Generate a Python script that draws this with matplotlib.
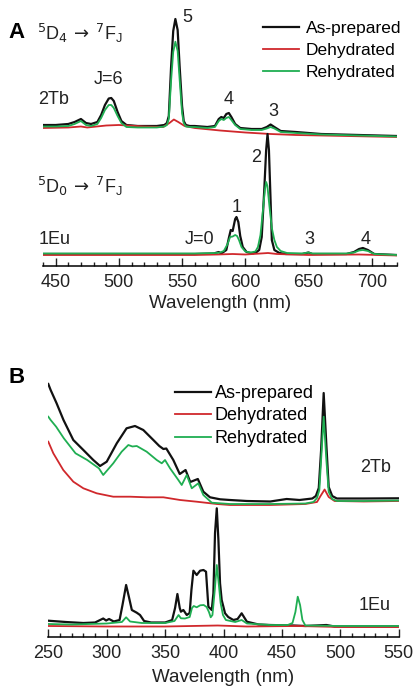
import matplotlib
matplotlib.use("Agg")
import matplotlib.pyplot as plt
from matplotlib.ticker import MultipleLocator

plt.rcParams["font.family"] = ["Liberation Sans", "DejaVu Sans"]
plt.rcParams["mathtext.fontset"] = "dejavusans"

BLACK = "#111111"
RED = "#d0282c"
GREEN = "#1fae52"
LABELS = ["As-prepared", "Dehydrated", "Rehydrated"]

# ---- panel A: emission spectra (intensity in a.u., stacked) ----
A_TB_BLACK_NM = [440, 450, 460, 465, 470, 474, 478, 483, 486, 489, 492, 494, 496, 499, 502, 506,
                 515, 530, 536, 538, 539.5, 541.3, 543, 544.7, 546.5, 548.1, 550, 551.3, 553, 556,
                 560, 570, 576, 579, 581, 583, 585, 587, 589, 592, 596, 605, 613, 617, 620, 623,
                 628, 640, 660, 690, 720]
A_TB_BLACK = [141, 141, 142, 144, 147, 143, 142, 144, 151, 161, 167.5, 168, 165, 154, 145, 141,
              140, 140, 141, 143, 150, 199, 235, 247, 236, 199, 160, 145, 141, 140,
              140, 139, 140, 147, 149, 148, 152, 153, 149, 142, 138, 137, 137, 139, 141.5, 139,
              135, 134, 132, 131, 130]
A_TB_GREEN = [139.5, 139.5, 140, 142, 145, 141, 140, 142, 148, 156, 161, 161, 158, 150, 143, 139,
              138.5, 138.5, 139.5, 141, 147, 185, 214, 224.3, 215, 186, 153, 143, 139.5, 139,
              139, 138, 139, 145, 147, 146, 148, 149, 146, 141, 137, 136, 136, 137.5, 139, 137.5,
              134, 133, 131.5, 130.5, 129.5]
A_TB_RED_NM = [440, 460, 470, 475, 490, 500, 520, 535, 540, 543.5, 547, 552, 560, 580, 600, 620,
               640, 680, 720]
A_TB_RED = [138, 138.5, 139.5, 138.5, 140.5, 141, 139.5, 139, 143, 146.5, 144, 140, 138, 135.5,
            133.5, 132, 131, 130, 129]

A_EU_BLACK_NM = [440, 500, 560, 575, 579, 581, 585, 587, 588.5, 590, 592, 593, 594.5, 596, 598,
                 601, 606, 609, 611, 613, 615, 616.5, 617.6, 618.7, 620, 621, 623, 627, 632, 645,
                 650, 653, 680, 686, 690, 693, 697, 702, 720]
A_EU_BLACK = [12, 12, 12, 12.5, 14, 12.5, 16, 28, 36, 35, 47, 49, 44, 30, 19,
              14, 12.5, 14, 16, 29, 76, 116, 132, 116, 66, 26, 16, 13, 12, 12,
              13.5, 12, 12, 14, 17, 18, 16, 12, 11]
A_EU_GREEN_NM = [440, 560, 577, 580, 583, 586, 588, 590, 592, 593.5, 595, 597, 600, 604, 608,
                 610, 612, 614, 615.5, 616.5, 617.5, 619, 621, 623, 625, 628, 633, 645, 650, 653,
                 680, 686, 690, 693, 697, 702, 720]
A_EU_GREEN = [12.5, 12.5, 13, 13.5, 15, 22, 29, 29.5, 31, 30, 26, 19, 14.5, 13.5, 14.5,
              19, 31, 56, 76, 84, 80, 61, 38, 26, 19, 15, 13, 12.5, 13.5, 12.5,
              12.5, 13.5, 15.5, 16, 15, 12, 11]
A_EU_RED_NM = [440, 560, 578, 590, 600, 612, 618, 625, 650, 690, 720]
A_EU_RED = [11, 11, 11.5, 12, 11.5, 12.5, 13, 12, 11, 11.5, 10.5]

# ---- panel B: excitation spectra (intensity in a.u., stacked) ----
B_TB_BLACK_NM = [250, 252, 257, 263, 271.4, 280, 288.5, 294.3, 300, 308.6, 317, 324.2, 331.3,
                 339.9, 345, 348.5, 351, 357, 362.5, 367.5, 371.5, 378, 382.7, 388.4, 397, 405.5,
                 420, 440, 454, 465, 476, 479, 481.5, 483.5, 485.7, 488, 490, 493, 497, 520, 550]
B_TB_BLACK = [253, 247, 234, 217, 197, 187, 177, 171, 175.3, 193.7, 208.7, 211, 207,
              197, 191, 188, 188.5, 177, 163, 167, 155, 158, 145.3, 139.7, 137.7, 137,
              136, 135.5, 138, 137, 138.5, 141, 149, 187, 244, 192, 150, 141, 138.5, 138.5, 138.7]
B_TB_GREEN_NM = [250, 252, 256.7, 263.3, 273.3, 283.3, 293.3, 297, 305.6, 312.8, 318.5, 322,
                 325.7, 334.2, 342.8, 347.1, 349.9, 354.2, 361.3, 364.2, 368.5, 372.8, 378.4,
                 382.7, 389.9, 405.5, 440, 470, 477, 480, 482, 483.5, 485.7, 488, 490, 493, 497,
                 520, 550]
B_TB_GREEN = [220.3, 217, 210.3, 198.7, 183.7, 177, 168.7, 162, 173.7, 185.3, 192, 190.5,
              191, 185.3, 177, 173.7, 177, 168.7, 157, 152, 162, 148.7, 153.7,
              142, 134.3, 133, 133, 133.5, 135, 139, 147, 177, 220.3, 177, 145, 138, 136,
              136, 136.5]
B_TB_RED_NM = [250, 254.3, 262.8, 271.4, 280, 291.4, 305.6, 320, 334.2, 348.5, 362.8, 377,
               394.2, 405.5, 440, 470, 480, 483, 486.5, 490, 495, 520, 550]
B_TB_RED = [195.3, 183.7, 167, 155.3, 148.7, 143.7, 140.3, 140.3, 139.7, 139.7, 137, 135.3,
            133, 132, 132, 133, 135, 141, 147.5, 140, 136, 135.5, 136]

B_EU_BLACK_NM = [250, 265, 280, 290, 297, 299.5, 302, 306, 311, 313.5, 316.6, 319, 321.5, 325.7,
                 328.5, 332, 338, 350, 356, 358.5, 360.5, 362.5, 363.5, 365.6, 368.5, 371, 372.5,
                 374.2, 377, 379.9, 382.8, 385, 387, 389.9, 391.3, 392.7, 394.2, 395.6, 397,
                 398.4, 401.3, 404, 408.4, 412, 415.5, 418, 420, 430, 440, 460, 470, 488, 495, 550]
B_EU_BLACK = [16.3, 15, 14, 14.5, 18.5, 16.5, 18, 15.5, 17, 32, 52, 40, 27, 24.3,
              22, 16, 14.5, 14.5, 17, 29, 43, 29, 25.3, 27, 22, 24, 47,
              66.3, 62, 66.3, 67, 65.3, 30.3, 27, 43.7, 104, 128.7, 97, 53.7,
              37, 23.7, 20, 17, 18, 23.7, 19, 15.3, 12.5, 12, 11.5, 11, 12, 10.5, 10.5]
B_EU_GREEN_NM = [250, 270, 300, 313, 316.6, 320, 330, 350, 358, 361.5, 363.5, 367, 371, 373,
                 374.5, 377, 380, 383, 385.5, 387.5, 389, 390.5, 392.5, 394.2, 396, 397.5, 399.5,
                 402, 410, 415.5, 420, 440, 455, 459, 461.5, 463.5, 465.5, 467.5, 470, 500, 550]
B_EU_GREEN = [13, 12.5, 13.5, 15, 19.7, 15.5, 14, 14, 16, 22, 18.7, 18.5, 20, 29,
              31, 29.7, 31.7, 32, 30, 25, 19.7, 22, 47, 72, 52, 34, 22,
              17, 15, 17, 13.5, 12, 12, 14, 25, 40.3, 32, 17, 11.5, 11, 11]
B_EU_RED_NM = [250, 300, 350, 395, 420, 463, 500, 550]
B_EU_RED = [11, 10.5, 10.5, 11.5, 10.5, 11, 10, 10]


def style_axis(ax, xlim, ylim, labelpad):
    ax.set_xlim(*xlim)
    ax.set_ylim(*ylim)
    for side in ("left", "right", "top"):
        ax.spines[side].set_visible(False)
    ax.spines["bottom"].set_linewidth(1.1)
    ax.set_yticks([])
    ax.xaxis.set_major_locator(MultipleLocator(50))
    ax.xaxis.set_minor_locator(MultipleLocator(10))
    ax.tick_params(axis="x", which="major", direction="in", length=5.5, width=1.0,
                   labelsize=13, pad=6, colors="#222222")
    ax.tick_params(axis="x", which="minor", direction="in", length=3, width=1.0, colors="#222222")
    ax.set_xlabel("Wavelength (nm)", fontsize=13.5, labelpad=labelpad, color="#222222")
    ax.patch.set_alpha(0)


def draw(ax, black, red, green):
    lb, = ax.plot(*black, color=BLACK, lw=1.6, label=LABELS[0])
    lr, = ax.plot(*red, color=RED, lw=1.3, label=LABELS[1])
    lg, = ax.plot(*green, color=GREEN, lw=1.3, label=LABELS[2])
    return [lb, lr, lg]


fig = plt.figure(figsize=(4.15, 6.87), dpi=100)
W, H = 415, 687

# panel A
axA = fig.add_axes([43 / W, (H - 266) / H, (397 - 43) / W, 261 / H])
hA = draw(axA, (A_TB_BLACK_NM, A_TB_BLACK), (A_TB_RED_NM, A_TB_RED), (A_TB_BLACK_NM, A_TB_GREEN))
draw(axA, (A_EU_BLACK_NM, A_EU_BLACK), (A_EU_RED_NM, A_EU_RED), (A_EU_GREEN_NM, A_EU_GREEN))
style_axis(axA, (440, 720), (0, 261), labelpad=3)
axA.legend(handles=hA, loc="upper left", bbox_to_anchor=(263 / W, 1 - 21 / H),
           bbox_transform=fig.transFigure, frameon=False, fontsize=12.5, handlelength=2.1,
           handletextpad=0.35, labelspacing=0.38, borderpad=0, borderaxespad=0)

txt = dict(fontsize=13, color="#222222", ha="center", va="center")
fig.text(8 / W, 1 - 33 / H, "A", fontsize=16, fontweight="bold", va="center", ha="left")
fig.text(37 / W, 1 - 33 / H, r"$^5$D$_4\,\rightarrow\,^7$F$_\mathregular{J}$", fontsize=13,
         va="center", ha="left", color="#222222")
fig.text(37 / W, 1 - 186 / H, r"$^5$D$_0\,\rightarrow\,^7$F$_\mathregular{J}$", fontsize=13,
         va="center", ha="left", color="#222222")
axA.text(448, 166, "2Tb", **txt)
axA.text(492, 186, "J=6", **txt)
axA.text(554, 248, "5", **txt)
axA.text(586.5, 167, "4", **txt)
axA.text(622, 154, "3", **txt)
axA.text(608.5, 109, "2", **txt)
axA.text(593, 59, "1", **txt)
axA.text(449, 27, "1Eu", **txt)
axA.text(563.5, 27, "J=0", **txt)
axA.text(651, 27, "3", **txt)
axA.text(695.5, 27, "4", **txt)

# panel B
axB = fig.add_axes([48.3 / W, (H - 637) / H, (398.8 - 48.3) / W, 267 / H])
hB = draw(axB, (B_TB_BLACK_NM, B_TB_BLACK), (B_TB_RED_NM, B_TB_RED), (B_TB_GREEN_NM, B_TB_GREEN))
draw(axB, (B_EU_BLACK_NM, B_EU_BLACK), (B_EU_RED_NM, B_EU_RED), (B_EU_GREEN_NM, B_EU_GREEN))
style_axis(axB, (250, 550), (0, 267), labelpad=4.5)
axB.legend(handles=hB, loc="upper left", bbox_to_anchor=(175 / W, 1 - 385 / H),
           bbox_transform=fig.transFigure, frameon=False, fontsize=13, handlelength=2.0,
           handletextpad=0.2, labelspacing=0.3, borderpad=0, borderaxespad=0)
fig.text(8 / W, 1 - 378 / H, "B", fontsize=16, fontweight="bold", va="center", ha="left")
axB.text(530.5, 170, "2Tb", **txt)
axB.text(529, 32, "1Eu", **txt)

fig.savefig("out.png", dpi=100)
